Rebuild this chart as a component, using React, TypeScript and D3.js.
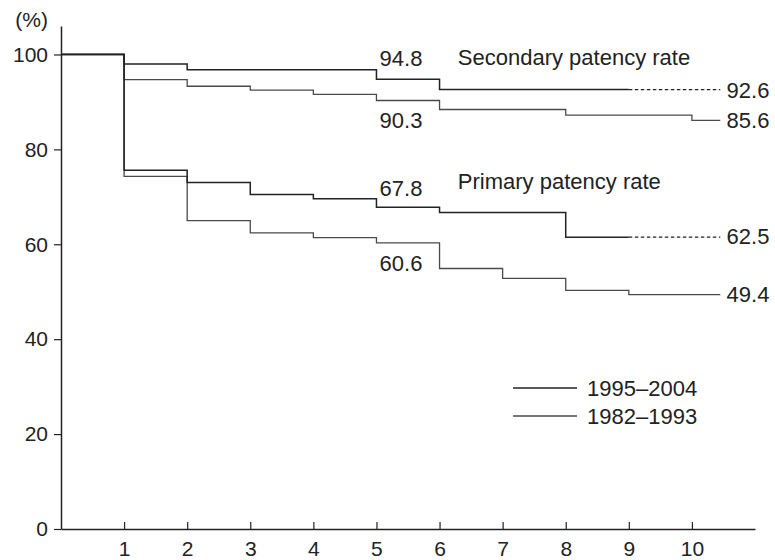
import * as d3 from 'd3';
import { useEffect, useRef } from 'react';

// years after surgery / cumulative patency (%)
const sec9504Years = [0, 1, 2, 5, 6, 9];
const sec9504Rates = [100, 98.0, 96.8, 94.8, 92.6, 92.6];
const sec8293Years = [0, 1, 2, 3, 4, 5, 6, 8, 10, 10.45];
const sec8293Rates = [100, 94.7, 93.3, 92.5, 91.6, 90.3, 88.4, 87.2, 86.1, 86.1];
const pri9504Years = [0, 1, 2, 3, 4, 5, 6, 8, 9];
const pri9504Rates = [100, 75.6, 73.0, 70.5, 69.6, 67.8, 66.7, 61.5, 61.5];
const pri8293Years = [0, 1, 2, 3, 4, 5, 6, 7, 8, 9, 10.45];
const pri8293Rates = [100, 74.3, 65.0, 62.4, 61.4, 60.3, 54.9, 52.8, 50.3, 49.4, 49.4];

// dotted projection of the 1995-2004 curves
const projectionEnd = 10.45;

const xTicks = [1, 2, 3, 4, 5, 6, 7, 8, 9, 10];
const yTicks = [0, 20, 40, 60, 80, 100];

// annotations: [text, x in years, y in %]
const valueLabels: [string, number, number][] = [
  ['94.8', 5.05, 99.2],
  ['90.3', 5.05, 86.1],
  ['67.8', 5.05, 71.8],
  ['60.6', 5.05, 56.0],
  ['92.6', 10.55, 92.5],
  ['85.6', 10.55, 86.1],
  ['62.5', 10.55, 61.6],
  ['49.4', 10.55, 49.5],
];
const groupLabels: [string, number, number][] = [
  ['Secondary patency rate', 6.29, 99.4],
  ['Primary patency rate', 6.29, 73.2],
];
const legendNames = ['1995–2004', '1982–1993'];

const width = 775;
const height = 560;
const margin = { top: 26, right: 20, bottom: 31, left: 61 };
const font = "'Liberation Sans', Arial, Helvetica, sans-serif";
const dark = '#222';
const light = '#4a4a4a';

const App = () => {
  const gx = useRef<SVGGElement>(null);
  const gy = useRef<SVGGElement>(null);

  const x = d3.scaleLinear().domain([0, 11]).range([margin.left, width - margin.right]);
  const y = d3.scaleLinear().domain([0, 106]).range([height - margin.bottom, margin.top]);

  const line = d3
    .line<[number, number]>()
    .x((d) => x(d[0]))
    .y((d) => y(d[1]))
    .curve(d3.curveStepAfter);

  const zip = (a: number[], b: number[]) => a.map((v, i) => [v, b[i]] as [number, number]);

  const sec9504 = zip(sec9504Years, sec9504Rates);
  const sec8293 = zip(sec8293Years, sec8293Rates);
  const pri9504 = zip(pri9504Years, pri9504Rates);
  const pri8293 = zip(pri8293Years, pri8293Rates);

  const dashed = (pts: [number, number][]) => {
    const last = pts[pts.length - 1];
    return line([last, [projectionEnd, last[1]]]) as string;
  };

  useEffect(() => {
    const ax = d3
      .select(gx.current)
      .call(d3.axisBottom(x).tickValues(xTicks).tickSize(-7).tickSizeOuter(0).tickPadding(12).tickFormat(d3.format('d')));
    const ay = d3
      .select(gy.current)
      .call(d3.axisLeft(y).tickValues(yTicks).tickSize(7).tickSizeOuter(0).tickPadding(6));
    [ax, ay].forEach((g) => {
      g.selectAll('path').attr('stroke', dark).attr('stroke-width', 1.5);
      g.selectAll('line').attr('stroke', dark).attr('stroke-width', 1.2);
      g.selectAll('text').attr('fill', dark).style('font-size', '21px').style('font-family', font);
    });
  }, []);

  return (
    <div style={{ position: 'absolute', left: 0, top: 0 }}>
      <svg width={width} height={height} style={{ display: 'block', background: '#fff' }}>
        <g ref={gx} transform={`translate(0, ${y(0)})`} />
        <g ref={gy} transform={`translate(${x(0)}, 0)`} />
        <text x={x(0) - 13} y={27} textAnchor="end" fontSize={21} fontFamily={font} fill={dark}>
          (%)
        </text>

        <g fill="none">
          <path d={line(sec8293) as string} stroke={light} strokeWidth={1.3} />
          <path d={line(pri8293) as string} stroke={light} strokeWidth={1.3} />
          <path d={line(sec9504) as string} stroke={dark} strokeWidth={1.5} />
          <path d={line(pri9504) as string} stroke={dark} strokeWidth={1.5} />
          <path d={dashed(sec9504)} stroke={dark} strokeWidth={1.2} strokeDasharray="3.5,2.5" />
          <path d={dashed(pri9504)} stroke={dark} strokeWidth={1.2} strokeDasharray="3.5,2.5" />
        </g>

        <g fontFamily={font} fontSize={22} fill={dark}>
          {valueLabels.map(([t, vx, vy]) => (
            <text key={t} x={x(vx)} y={y(vy)} dy="0.35em">
              {t}
            </text>
          ))}
          {groupLabels.map(([t, vx, vy]) => (
            <text key={t} x={x(vx)} y={y(vy)} dy="0.35em">
              {t}
            </text>
          ))}
        </g>

        <g fontFamily={font} fontSize={22} fill={dark}>
          {legendNames.map((name, i) => (
            <g key={name} transform={`translate(513, ${388 + i * 28})`}>
              <line x1={0} x2={64} stroke={i === 0 ? dark : light} strokeWidth={i === 0 ? 1.5 : 1.3} />
              <text x={74} dy="0.35em">
                {name}
              </text>
            </g>
          ))}
        </g>
      </svg>
    </div>
  );
};

export default App;
